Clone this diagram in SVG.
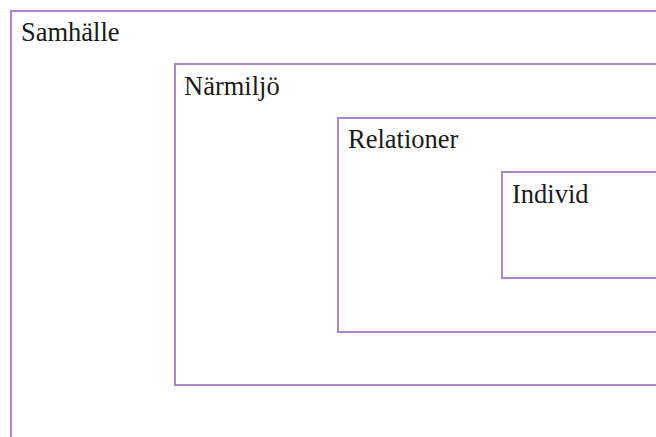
<svg xmlns="http://www.w3.org/2000/svg" width="656" height="437" viewBox="0 0 656 437">
<style>
.box{fill:none;stroke:#ac86c8;stroke-width:2}
.lbl{font-family:"Liberation Serif",serif;font-size:26.5px;fill:#1a1a1a}
</style>
<rect width="656" height="437" fill="#ffffff"/>
<g id="samhalle"><rect class="box" x="11" y="11" width="700" height="460"/><text class="lbl" x="21" y="41">Samhälle</text></g>
<g id="narmiljo"><rect class="box" x="175" y="64" width="540" height="321"/><text class="lbl" x="184" y="95">Närmiljö</text></g>
<g id="relationer"><rect class="box" x="338" y="118" width="380" height="214"/><text class="lbl" x="348" y="148">Relationer</text></g>
<g id="individ"><rect class="box" x="502" y="172" width="220" height="106"/><text class="lbl" x="512" y="203">Individ</text></g>
<g id="connectors"/>
</svg>
